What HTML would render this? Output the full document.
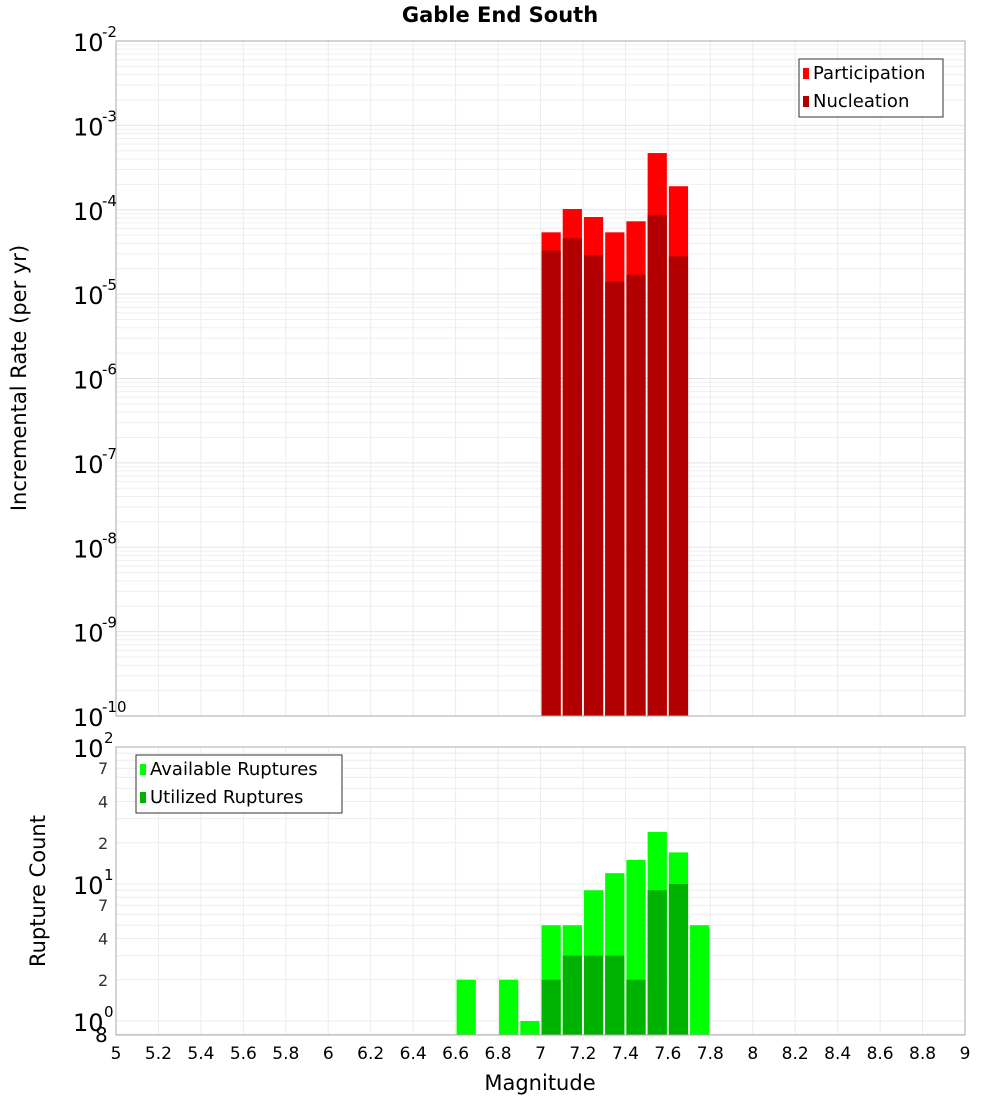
<!DOCTYPE html>
<html><head><meta charset="utf-8"><style>
body{margin:0;background:#fff;font-family:"Liberation Sans","DejaVu Sans",sans-serif}
svg text{font-family:"DejaVu Sans","Liberation Sans",sans-serif}
</style></head><body>
<svg id="c" width="1000" height="1100" xmlns="http://www.w3.org/2000/svg"></svg>
<script>
const mags=[7.05,7.15,7.25,7.35,7.45,7.55,7.65];
const participation=[5.4e-5,1.02e-4,8.2e-5,5.4e-5,7.3e-5,4.7e-4,1.9e-4];
const nucleation=[3.3e-5,4.6e-5,2.9e-5,1.4e-5,1.7e-5,8.7e-5,2.8e-5];
const countMags=[6.65,6.85,6.95,7.05,7.15,7.25,7.35,7.45,7.55,7.65,7.75];
const available=[2,2,1,5,5,9,12,15,24,17,5];
const utilMags=[7.05,7.15,7.25,7.35,7.45,7.55,7.65];
const utilized=[2,3,3,3,2,9,10];
const xTicks=["5","5.2","5.4","5.6","5.8","6","6.2","6.4","6.6","6.8","7","7.2","7.4","7.6","7.8","8","8.2","8.4","8.6","8.8","9"];

const S=document.getElementById('c');const NS='http://www.w3.org/2000/svg';
function el(t,a,p){const e=document.createElementNS(NS,t);for(const k in a)e.setAttribute(k,a[k]);(p||S).appendChild(e);return e;}
const X0=116,X1=965;
const x=m=>X0+(m-5)/4*(X1-X0);
const T0=41,T1=716; const yT=v=>T0+(-2-Math.log10(v))/8*(T1-T0);
const B0=747,B1=1035; const DEC=137; const yB=v=>1021-Math.log10(v)*DEC;

// top plot grid
for(let d=-10;d<-2;d++){for(let k=1;k<10;k++){const y=yT(k*Math.pow(10,d));
 const g=el('line',{x1:X0,x2:X1,y1:y,y2:y,stroke:k==1?'#e4e4e4':'#efefef','stroke-width':1});
 }}
for(let i=0;i<=20;i++){const xx=x(5+i*0.2);
 const g=el('line',{x1:xx,x2:xx,y1:T0,y2:T1,stroke:'#ececec'});
 const g2=el('line',{x1:xx,x2:xx,y1:B0,y2:B1,stroke:'#ececec'});}
// bottom grid
[0.8,1,2,3,4,5,6,7,8,9,10,20,30,40,50,60,70,80,90,100].forEach(v=>{const y=yB(v);
 const g=el('line',{x1:X0,x2:X1,y1:y,y2:y,stroke:'#ececec'});});

// top bars
mags.forEach((m,i)=>{
 const r=el('rect',{x:x(m-0.05)+1,y:yT(participation[i]),width:x(m+0.05)-x(m-0.05)-2,height:T1-yT(participation[i]),fill:'#ff0000'});
 
 const n=el('rect',{x:x(m-0.05)+1,y:yT(nucleation[i]),width:x(m+0.05)-x(m-0.05)-2,height:T1-yT(nucleation[i]),fill:'#b20000'});
 
});
countMags.forEach((m,i)=>{
 const r=el('rect',{x:x(m-0.05)+1,y:yB(available[i]),width:x(m+0.05)-x(m-0.05)-2,height:B1-yB(available[i]),fill:'#00ff00'});
 
});
utilMags.forEach((m,i)=>{
 const r=el('rect',{x:x(m-0.05)+1,y:yB(utilized[i]),width:x(m+0.05)-x(m-0.05)-2,height:B1-yB(utilized[i]),fill:'#00b200'});
 
});
// frames
let f=el('rect',{x:X0,y:T0,width:X1-X0,height:T1-T0,fill:'none',stroke:'#aaa'});
f=el('rect',{x:X0,y:B0,width:X1-X0,height:B1-B0,fill:'none',stroke:'#aaa'});

// top y labels
for(let d=-10;d<=-2;d++){const y=yT(Math.pow(10,d));
 const t=el('text',{x:73,y:y+10,'font-size':24,fill:'#000'});t.textContent='10';
 
 const s=el('text',{x:102,y:y-4,'font-size':15,fill:'#000'});s.textContent=String(d);
 }
// bottom y labels
[[100,'10','2'],[10,'10','1'],[1,'10','0']].forEach(a=>{const y=yB(a[0]);
 const t=el('text',{x:73,y:y+10,'font-size':24,fill:'#000'});t.textContent=a[1];
 
 const s=el('text',{x:104,y:y-4,'font-size':15,fill:'#000'});s.textContent=a[2];
 });
[[70,'7'],[40,'4'],[20,'2'],[7,'7'],[4,'4'],[2,'2']].forEach(a=>{const t=el('text',{x:98,y:yB(a[0])+6,'font-size':16,fill:'#333'});t.textContent=a[1];
 });
let e8=el('text',{x:95,y:1042,'font-size':20,fill:'#000'});e8.textContent='8';
// x labels
xTicks.forEach(s=>{const t=el('text',{x:x(parseFloat(s)),y:1059,'font-size':17,'text-anchor':'middle',fill:'#000'});t.textContent=s;
 });
// titles
let t=el('text',{x:500,y:22,'font-size':21,'font-weight':'bold','text-anchor':'middle'});t.textContent='Gable End South';
t=el('text',{x:540,y:1090,'font-size':21,'text-anchor':'middle'});t.textContent='Magnitude';
t=el('text',{x:0,y:0,'font-size':21,'text-anchor':'middle',transform:'translate(26,378) rotate(-90)'});t.textContent='Incremental Rate (per yr)';
t=el('text',{x:0,y:0,'font-size':21,'text-anchor':'middle',transform:'translate(45,891) rotate(-90)'});t.textContent='Rupture Count';
// legends
function legend(x0,y0,w,items,name){const g=el('g',{});
 el('rect',{x:x0,y:y0,width:w,height:58,fill:'#fff',stroke:'#333'},g);
 items.forEach((it,i)=>{el('rect',{x:x0+4,y:y0+9+i*28,width:6,height:11,fill:it[1]},g);
  const tt=el('text',{x:x0+14,y:y0+20+i*28,'font-size':18},g);tt.textContent=it[0];});}
legend(799,59,144,[['Participation','#ff0000'],['Nucleation','#b20000']],'legend-top');
legend(136,755,206,[['Available Ruptures','#00ff00'],['Utilized Ruptures','#00b200']],'legend-bottom');
</script>
</body></html>
